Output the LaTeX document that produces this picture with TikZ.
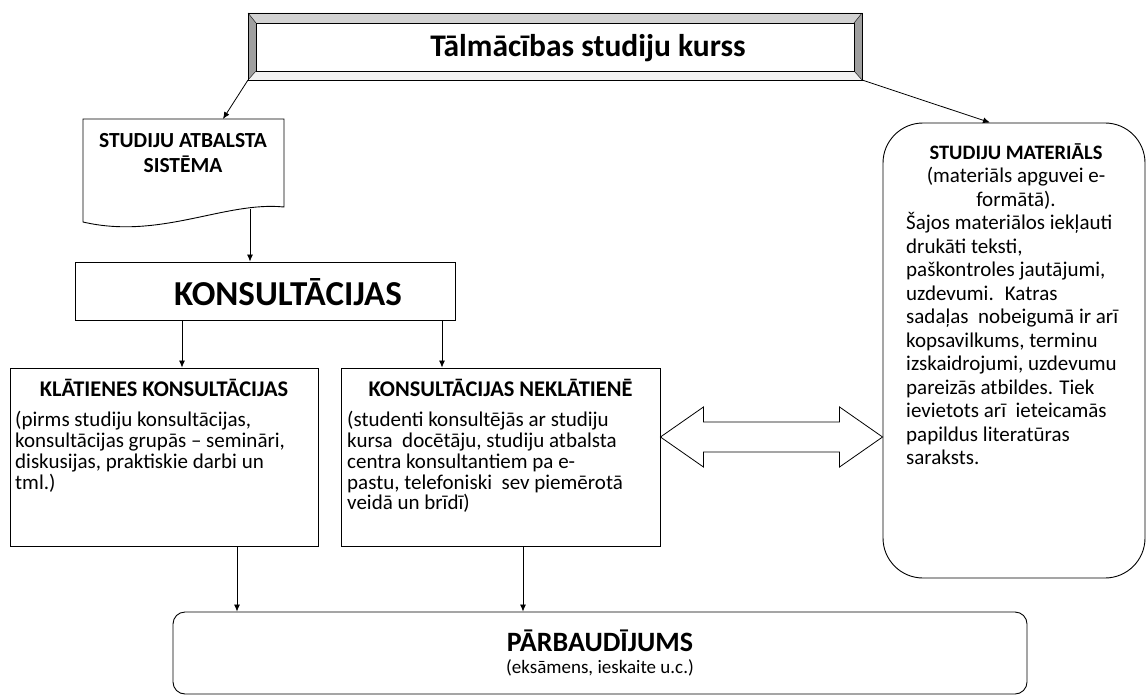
\documentclass[tikz,border=0pt]{standalone}
\usepackage{fontspec}
\setmainfont{Carlito}
\usetikzlibrary{arrows.meta,calc}
\newcommand{\lnstart}{\rule{0pt}{0.9em}}

\begin{document}
\begin{tikzpicture}
  [
    x=1pt, y=-1pt,
    box/.style={draw, line width=0.9pt},
    arr/.style={-{Latex[length=7pt,width=6pt]}, line width=0.8pt},
    ttl/.style={font=\bfseries\fontsize{22.4}{25}\selectfont, inner sep=0pt},
    txt/.style={font=\fontsize{21}{20.8}\selectfont, align=left,
                inner sep=0pt, anchor=north west},
    mtxt/.style={font=\fontsize{21}{23.5}\selectfont, inner sep=0pt}
  ]
  \useasboundingbox (0,0) rectangle (1147,695);

  % top: beveled frame
  \coordinate (TO1) at (248,13);
  \coordinate (TO2) at (862,80);
  \coordinate (TI1) at (256,23);
  \coordinate (TI2) at (854,71);
  \fill [gray!35] (TO1) -- (TO2 |- TO1) -- (TI2 |- TI1) -- (TI1) -- cycle;
  \fill [gray!75] (TO1) -- (TI1) -- (TI1 |- TI2) -- (TO1 |- TO2) -- cycle;
  \fill [gray!75] (TO2 |- TO1) -- (TI2 |- TI1) -- (TI2) -- (TO2) -- cycle;
  \fill [gray!10] (TO1 |- TO2) -- (TI1 |- TI2) -- (TI2) -- (TO2) -- cycle;
  \draw [line width=0.9pt] (TO1) rectangle (TO2);
  \draw [line width=0.9pt] (TI1) rectangle (TI2);
  \draw (TO1) -- (TI1);
  \draw (TO1 |- TO2) -- (TI1 |- TI2);
  \draw (TO2 |- TO1) -- (TI2 |- TI1);
  \draw (TO2) -- (TI2);
  \node [font=\bfseries\fontsize{31.5}{34}\selectfont, inner sep=0pt]
    (course) at (588,48) {Tālmācības studiju kurss};

  % support system (document shape)
  \draw [box] (83,119) -- (284,119) -- (284,207)
    .. controls (225,201) and (160,240) .. (83,222) -- cycle;
  \node [align=center, inner sep=0pt, font=\bfseries\fontsize{21.5}{25}\selectfont]
    (sas) at (183,153) {STUDIJU ATBALSTA\\SISTĒMA};
  \coordinate (sasT) at (223,119);
  \coordinate (sasB) at (250,209);

  % consultations
  \node [box, minimum width=380pt, minimum height=58pt] (kons) at (265,291) {};
  \node [font=\bfseries\fontsize{35}{38}\selectfont, inner sep=0pt]
    (konsT) at (288,292) {KONSULTĀCIJAS};

  \node [box, minimum width=308pt, minimum height=178pt] (kl) at (164,457) {};
  \node [ttl] (klT) at (164,388) {KLĀTIENES KONSULTĀCIJAS};
  \node [txt] (klX) at (15,407.5) {\lnstart(pirms studiju konsultācijas,\\
    konsultācijas grupās – semināri,\\diskusijas, praktiskie darbi un\\tml.)};

  \node [box, minimum width=319pt, minimum height=178pt] (nk) at (500.5,457) {};
  \node [ttl] (nkT) at (500.5,388) {KONSULTĀCIJAS NEKLĀTIENĒ};
  \node [txt] (nkX) at (347,407.5) {\lnstart(studenti konsultējās ar studiju\\
    kursa~ docētāju, studiju atbalsta\\centra konsultantiem pa e-\\
    pastu, telefoniski~ sev piemērotā\\veidā un brīdī)};

  % study materials
  \node [box, rounded corners=40pt, minimum width=262pt, minimum height=455pt]
    (mat) at (1014,350.5) {};
  \node [mtxt, font=\bfseries\fontsize{20.5}{23.5}\selectfont] (matT) at (1016,152)
    {STUDIJU MATERIĀLS};
  \node [mtxt, align=center, anchor=north] (matC) at (1016,163.5)
    {\lnstart(materiāls apguvei e-\\formātā).};
  \node [mtxt, align=left, anchor=north west] (matX) at (906,210.5)
    {\lnstart Šajos materiālos iekļauti\\drukāti teksti,\\paškontroles jautājumi,\\
     uzdevumi.~ Katras\\sadaļas~ nobeigumā ir arī\\kopsavilkums, terminu\\
     izskaidrojumi, uzdevumu\\pareizās atbildes. Tiek\\ievietots arī~ ieteicamās\\
     papildus literatūras\\saraksts.};

  % examination
  \node [box, rounded corners=12pt, minimum width=854pt, minimum height=82pt]
    (parb) at (600,653) {};
  \node [font=\bfseries\fontsize{28}{30}\selectfont, inner sep=0pt]
    (parbT) at (600,641) {PĀRBAUDĪJUMS};
  \node [font=\fontsize{19}{21}\selectfont, inner sep=0pt]
    (parbX) at (600,668) {(eksāmens, ieskaite u.c.)};

  % connectors
  \draw [arr] (TO1 |- TO2) -- (sasT);
  \draw [arr] (TO2) -- (mat.north -| 990,0);
  \draw [arr] (sasB) -- (sasB |- kons.north);
  \draw [arr] (kons.south -| 182,0) -- (kl.north -| 182,0);
  \draw [arr] (kons.south -| 442,0) -- (nk.north -| 442,0);
  \draw [arr] (kl.south -| 237,0) -- (parb.north -| 237,0);
  \draw [arr] (nk.south -| 523,0) -- (parb.north -| 523,0);

  % double block arrow
  \coordinate (dA) at (nk.east |- 0,437);
  \coordinate (dB) at (mat.west |- 0,437);
  \draw [line width=0.8pt] (dA) -- ++(43,-30) -- ++(0,15) -- ($(dB)+(-43,-15)$)
    -- ++(0,-15) -- (dB) -- ++(-43,30) -- ++(0,-15) -- ($(dA)+(43,15)$)
    -- ++(0,15) -- cycle;
\end{tikzpicture}
\end{document}
